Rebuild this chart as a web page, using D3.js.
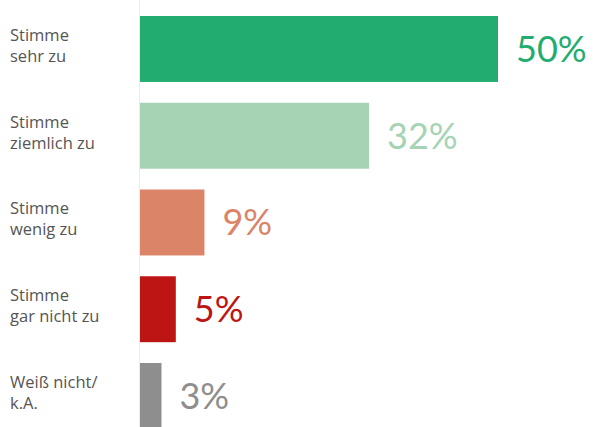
<!DOCTYPE html>
<html lang="de">
<head>
  <meta charset="UTF-8">
  <title>Zustimmung</title>
  <script src="https://d3js.org/d3.v7.min.js"></script>
  <style>
    html, body { margin: 0; padding: 0; background: #fff; }
  </style>
</head>
<body>
  <div class="canvas"></div>
  <script>
    // Daten
    const categories = ['Stimme sehr zu', 'Stimme ziemlich zu', 'Stimme wenig zu', 'Stimme gar nicht zu', 'Weiß nicht/ k.A.'];
    const labelLines = [['Stimme', 'sehr zu'], ['Stimme', 'ziemlich zu'], ['Stimme', 'wenig zu'], ['Stimme', 'gar nicht zu'], ['Weiß nicht/', 'k.A.']];
    const values = [50, 32, 9, 5, 3];
    const colors = ['#22ac70', '#a6d3b4', '#db8468', '#bd1414', '#8e8e8e'];

    const width = 594;
    const height = 427;
    const axisX = 140;

    const svg = d3.select('.canvas')
      .append('svg')
      .attr('width', width)
      .attr('height', height);

    // x: 50% endet bei ~498px
    const x = d3.scaleLinear()
      .domain([0, 50])
      .range([axisX, 498]);

    const y = d3.scaleBand()
      .domain(categories)
      .range([5.6, 5.6 + 86.75 * categories.length])
      .paddingInner(0.24)
      .paddingOuter(0.12);

    // feine Achsenlinie
    svg.append('line')
      .attr('x1', axisX - 0.5).attr('x2', axisX - 0.5)
      .attr('y1', 0).attr('y2', height)
      .attr('stroke', '#ececec')
      .attr('stroke-width', 1);

    const data = categories.map((c, i) => ({ cat: c, val: values[i], col: colors[i], lines: labelLines[i] }));

    svg.selectAll('rect.bar')
      .data(data)
      .enter()
      .append('rect')
      .attr('class', 'bar')
      .attr('x', x(0))
      .attr('y', d => y(d.cat))
      .attr('width', d => x(d.val) - x(0))
      .attr('height', y.bandwidth())
      .attr('fill', d => d.col);

    // Werte
    svg.selectAll('text.val')
      .data(data)
      .enter()
      .append('text')
      .attr('class', 'val')
      .attr('x', d => x(d.val) + 18)
      .attr('y', d => y(d.cat) + y.bandwidth() / 2 + 13)
      .attr('font-family', 'Lato, sans-serif')
      .attr('font-weight', 400)
      .attr('font-size', 36)
      .attr('fill', d => d.col)
      .text(d => d.val + '%');

    // Kategorien (zweizeilig)
    const lbl = svg.selectAll('text.lbl')
      .data(data)
      .enter()
      .append('text')
      .attr('class', 'lbl')
      .attr('font-family', '"Open Sans", sans-serif')
      .attr('font-size', 16.5)
      .attr('fill', '#555');

    lbl.selectAll('tspan')
      .data(d => d.lines.map((t, j) => ({ t, j, d })))
      .enter()
      .append('tspan')
      .attr('x', 10)
      .attr('y', o => y(o.d.cat) + y.bandwidth() / 2 - 8 + o.j * 21)
      .text(o => o.t);
  </script>
</body>
</html>
